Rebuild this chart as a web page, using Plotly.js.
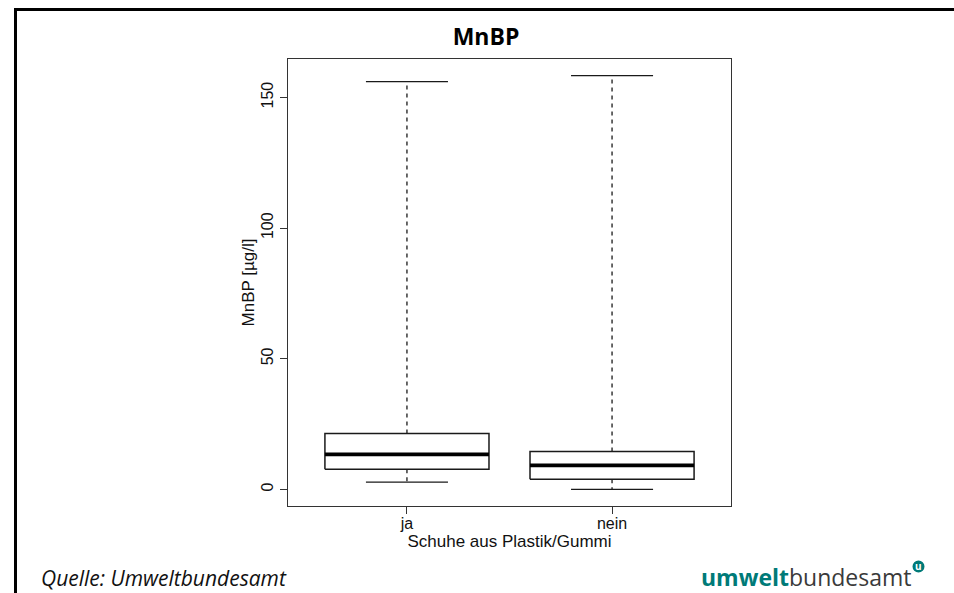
<!DOCTYPE html>
<html>
<head>
<meta charset="utf-8">
<script src="https://cdn.plot.ly/plotly-3.0.1.min.js"></script>
<style>
html,body{margin:0;padding:0;background:#fff;overflow:hidden;}
#wrap{position:relative;width:954px;height:593px;overflow:hidden;}
#chart{position:absolute;left:0;top:0;width:954px;height:593px;}
#frame{position:absolute;left:13.5px;top:7.5px;width:960px;height:600px;border-top:3px solid #000;border-left:3px solid #000;pointer-events:none;}
#cover{position:absolute;left:930px;top:10.5px;width:24px;height:40px;background:#fff;pointer-events:none;}
</style>
</head>
<body>
<div id="wrap">
<div id="chart"></div>
<div id="frame"></div>
<div id="cover"></div>
</div>
<script>
// ---- data ----
const categories = ["ja", "nein"];
const whiskerMin = [2.8, 0.0];
const q1 = [7.7, 3.9];
const median = [13.4, 9.2];
const q3 = [21.4, 14.5];
const whiskerMax = [156.1, 158.4];
const yTicks = [0, 50, 100, 150];

const titleText = "MnBP";
const xTitle = "Schuhe aus Plastik/Gummi";
const yTitle = "MnBP [µg/l]";

// ---- build traces from data ----
const boxHalf = 0.4, capHalf = 0.2;
const lineCol = "#1a1a1a";
const boxX = [], boxY = [], medX = [], medY = [], whX = [], whY = [], capX = [], capY = [];
categories.forEach((c, i) => {
  const x = i + 1;
  boxX.push(x - boxHalf, x + boxHalf, x + boxHalf, x - boxHalf, x - boxHalf, null);
  boxY.push(q1[i], q1[i], q3[i], q3[i], q1[i], null);
  medX.push(x - boxHalf, x + boxHalf, null);
  medY.push(median[i], median[i], null);
  whX.push(x, x, null, x, x, null);
  whY.push(q3[i], whiskerMax[i], null, q1[i], whiskerMin[i], null);
  capX.push(x - capHalf, x + capHalf, null, x - capHalf, x + capHalf, null);
  capY.push(whiskerMax[i], whiskerMax[i], null, whiskerMin[i], whiskerMin[i], null);
});

const traces = [
  {type: "scatter", mode: "lines", x: whX, y: whY, line: {color: lineCol, width: 1.3, dash: "4px,4px"}, hoverinfo: "skip", showlegend: false},
  {type: "scatter", mode: "lines", x: capX, y: capY, line: {color: lineCol, width: 1.3}, hoverinfo: "skip", showlegend: false},
  {type: "scatter", mode: "lines", x: boxX, y: boxY, line: {color: lineCol, width: 1.5}, fill: "none", hoverinfo: "skip", showlegend: false},
  {type: "scatter", mode: "lines", x: medX, y: medY, line: {color: "#000", width: 3.8}, hoverinfo: "skip", showlegend: false}
];

// ---- layout ----
const L = 288, R = 731, T = 58.5, B = 505.6;
const pw = R - L, ph = B - T;
const px = v => (v - L) / pw;
const py = v => (B - v) / ph;

const tickFont = {family: "Liberation Sans, Arial, sans-serif", size: 16, color: "#111"};
const titleFont = {family: "Liberation Sans, Arial, sans-serif", size: 17, color: "#111"};

const layout = {
  width: 954, height: 593,
  margin: {l: L, r: 954 - R, t: T, b: 593 - B, pad: 0},
  paper_bgcolor: "rgba(0,0,0,0)", plot_bgcolor: "#fff",
  showlegend: false,
  title: {
    text: "<b>" + titleText + "</b>",
    font: {family: "Open Sans, Noto Sans, sans-serif", size: 23, color: "#000"},
    x: 486 / 954, xref: "container", xanchor: "center",
    y: 1 - 37 / 593, yref: "container", yanchor: "middle"
  },
  xaxis: {
    range: [0.42, 2.58],
    tickvals: categories.map((c, i) => i + 1),
    ticktext: categories,
    ticks: "outside", ticklen: 7, tickwidth: 1, tickcolor: "#333",
    ticklabelstandoff: -5,
    showline: true, mirror: true, linecolor: "#333", linewidth: 1.3,
    showgrid: false, zeroline: false,
    tickfont: tickFont,
    title: {text: xTitle, font: titleFont, standoff: 2}
  },
  yaxis: {
    range: [-6.34, 164.74],
    tickvals: yTicks,
    ticktext: yTicks.map(String),
    tickangle: -90,
    ticks: "outside", ticklen: 7, tickwidth: 1, tickcolor: "#333",
    showline: true, mirror: true, linecolor: "#333", linewidth: 1.3,
    showgrid: false, zeroline: false,
    tickfont: tickFont,
    title: {text: yTitle, font: titleFont, standoff: 0}
  },
  shapes: [
    {type: "circle", xref: "paper", yref: "paper", x0: px(912.5), x1: px(924.5), y0: py(572), y1: py(560), fillcolor: "#007a78", line: {width: 0}}
  ],
  annotations: [
    {text: "<i>Quelle: Umweltbundesamt</i>", xref: "paper", yref: "paper", x: px(39), y: py(578),
     xanchor: "left", yanchor: "middle", showarrow: false,
     font: {family: "Open Sans, Noto Sans, sans-serif", size: 21, color: "#111"}},
    {text: "<b><span style='color:#007a78'>umwelt</span></b><span style='color:#3a3a3a'>bundesamt</span>",
     xref: "paper", yref: "paper", x: px(914), y: py(577), xanchor: "right", yanchor: "middle", showarrow: false,
     font: {family: "Open Sans, Noto Sans, sans-serif", size: 23, color: "#3a3a3a"}},
    {text: "<b>u</b>", xref: "paper", yref: "paper", x: px(918.5), y: py(565.5), xanchor: "center", yanchor: "middle", showarrow: false,
     font: {family: "Open Sans, sans-serif", size: 10, color: "#fff"}}
  ]
};

Plotly.newPlot("chart", traces, layout, {displayModeBar: false, staticPlot: true});
</script>
</body>
</html>
